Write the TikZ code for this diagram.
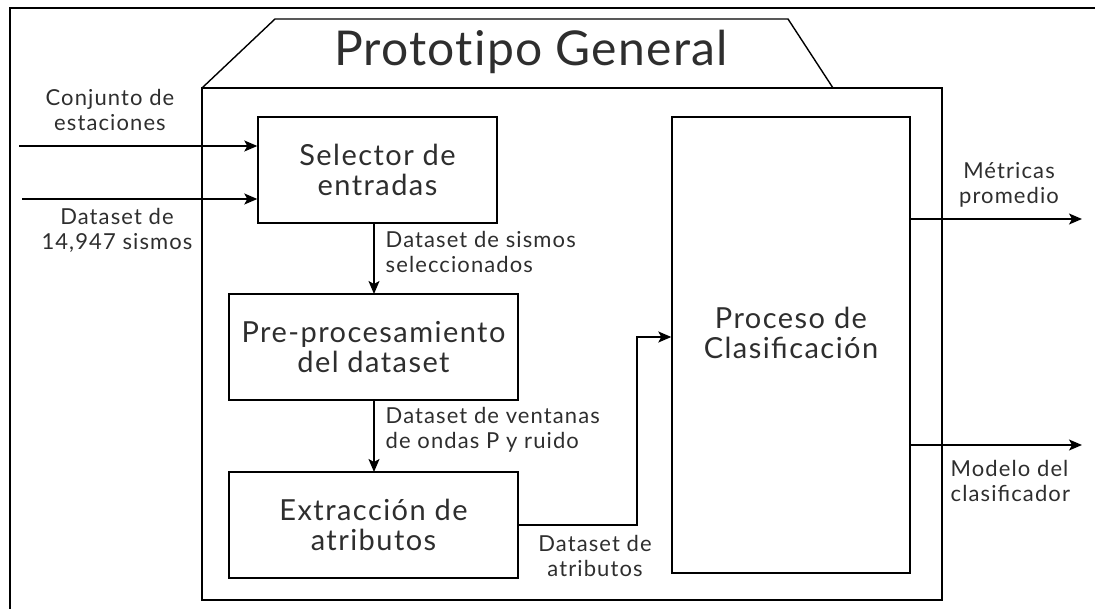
\documentclass[tikz,border=0pt]{standalone}
\usepackage{fontspec}
\setmainfont{Lato}
\newfontfamily\lblfont[LetterSpace=5]{Lato}
\newfontfamily\titlefont[LetterSpace=2.5,Ligatures=NoCommon]{Lato}
\usetikzlibrary{arrows.meta}
\begin{document}
\begin{tikzpicture}[x=1pt,y=-1pt,
  line width=1.4pt,
  boxtext/.style={font=\lblfont\fontsize{29}{30}\selectfont, align=center, text=black!82},
  lbl/.style={font=\lblfont\fontsize{22}{25}\selectfont, text=black!82, inner sep=0pt},
  procbox/.style={draw, boxtext, inner sep=0pt},
  arr/.style={-{Stealth[length=13pt,width=11pt,inset=3pt]}}
]
\useasboundingbox (0,0) rectangle (1095,609);
% outer frame (cropped)
\draw[line width=1.6pt] (10,609) -- (10,8) -- (1095,8);
% main box with tab
\draw (202,88) rectangle (942,600);
\draw (202,88) -- (275,19) -- (788,19) -- (833,88);
\node[font=\titlefont\fontsize{48}{52}\selectfont, text=black!82] (title) at (531,52) {Prototipo General};
% boxes
\node[procbox, minimum width=239pt, minimum height=106pt] (sel) at (377.5,170) {Selector de\\entradas};
\node[procbox, minimum width=289pt, minimum height=106pt] (pre) at (373.5,347) {Pre-procesamiento\\del dataset};
\node[procbox, minimum width=289pt, minimum height=106pt] (ext) at (373.5,525) {Extracción de\\atributos};
\node[procbox, minimum width=238pt, minimum height=456pt,
      label={[boxtext, yshift=12pt]center:{Proceso de\\Clasificación}}] (cls) at (791,345) {};
% inputs
\coordinate (in1) at (19,146);
\coordinate (in2) at (22,199);
\draw[arr] (in1) -- (in1 -| sel.west);
\draw[arr] (in2) -- (in2 -| sel.west);
\node[lbl, align=center] (l1) at (110,110) {Conjunto de\\estaciones};
\node[lbl, align=center] (l2) at (117,230) {Dataset de\\14,947 sismos};
% vertical flow
\draw[arr] (374,223) -- (374,294);
\draw[arr] (374,400) -- (374,472);
\node[lbl, align=left, anchor=west] (l3) at (385,252) {Dataset de sismos\\seleccionados};
\node[lbl, align=left, anchor=west] (l4) at (385,430) {Dataset de ventanas\\de ondas P y ruido};
% extraction to classifier
\coordinate (bend) at (637,337);
\draw[arr] (ext.east) -| (bend) -- (bend -| cls.west);
\node[lbl, align=center] (l5) at (595,556) {Dataset de\\atributos};
% outputs
\coordinate (out1) at (1082,219);
\coordinate (out2) at (1082,445);
\draw[arr] (out1 -| cls.east) -- (out1);
\draw[arr] (out2 -| cls.east) -- (out2);
\node[lbl, align=center] (l6) at (1009,185) {Métricas\\promedio};
\node[lbl, align=left, anchor=west] (l7) at (950,481) {Modelo del\\clasificador};
\end{tikzpicture}
\end{document}
